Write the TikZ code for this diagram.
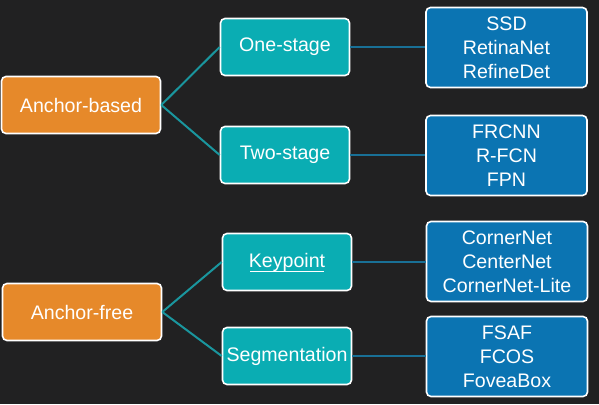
\documentclass[tikz,border=0pt]{standalone}
\usepackage{fontspec}
\setmainfont{Liberation Sans}
\definecolor{bgc}{RGB}{33,33,34}
\definecolor{orangec}{RGB}{230,137,42}
\definecolor{tealc}{RGB}{10,173,179}
\definecolor{bluec}{RGB}{11,116,178}
\definecolor{linkA}{RGB}{26,150,158}
\definecolor{linkB}{RGB}{25,112,150}
\tikzset{
  boxbase/.style={draw=white, line width=1.6pt, rounded corners=4.5pt, text=white, align=center, inner sep=0pt,
    font=\fontsize{19.6}{24}\selectfont},
  rootbox/.style={boxbase, fill=orangec, minimum width=159pt, minimum height=57pt},
  midbox/.style={boxbase, fill=tealc, minimum width=129pt, minimum height=57pt},
  leafbox/.style={boxbase, fill=bluec, minimum width=161pt, minimum height=80pt},
  linkone/.style={draw=linkA, line width=2pt},
  linktwo/.style={draw=linkB, line width=2pt}
}
\begin{document}
\begin{tikzpicture}[x=1pt,y=1pt]
\fill[bgc] (0,0) rectangle (599,404);
\useasboundingbox (0,0) rectangle (599,404);
% roots
\node[rootbox] (ab) at (81,299) {Anchor-based};
\node[rootbox] (af) at (82,92) {Anchor-free};
% middle
\node[midbox] (one) at (285,357) {One-stage};
\node[midbox] (two) at (285,249) {Two-stage};
\node[midbox] (kp) at (287,142) {Keypoint\rule[-1.5pt]{0pt}{0pt}};
\draw[white, line width=0.9pt] ([xshift=-37pt,yshift=-9pt]kp.center) coordinate (ku1) -- ([xshift=37pt,yshift=-9pt]kp.center) coordinate (ku2);
\node[midbox] (seg) at (287,48) {Segmentation};
% leaves
\node[leafbox] (l1) at (506.5,356.5) {SSD\\RetinaNet\\RefineDet};
\node[leafbox] (l2) at (506.5,248.5) {FRCNN\\R-FCN\\FPN};
\node[leafbox] (l3) at (507,142.5) {CornerNet\\CenterNet\\CornerNet-Lite};
\node[leafbox] (l4) at (507,47.5) {FSAF\\FCOS\\FoveaBox};
% connectors
\draw[linkone] (ab.east) -- (one.west);
\draw[linkone] (ab.east) -- (two.west);
\draw[linkone] (af.east) -- (kp.west);
\draw[linkone] (af.east) -- (seg.west);
\draw[linktwo] (one.east) -- (l1.west |- one.east);
\draw[linktwo] (two.east) -- (l2.west |- two.east);
\draw[linktwo] (kp.east) -- (l3.west |- kp.east);
\draw[linktwo] (seg.east) -- (l4.west |- seg.east);
\end{tikzpicture}
\end{document}
